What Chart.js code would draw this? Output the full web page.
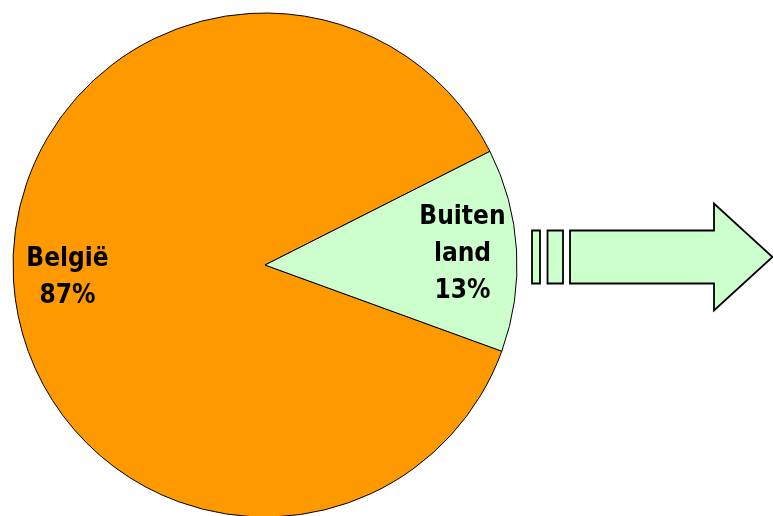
<!DOCTYPE html>
<html>
<head>
<meta charset="utf-8">
<script src="https://cdn.jsdelivr.net/npm/chart.js@4/dist/chart.umd.min.js"></script>
<style>
  html, body { margin: 0; padding: 0; background: #ffffff; }
  #wrap { width: 773px; height: 516px; position: relative; }
</style>
</head>
<body>
<div id="wrap"><canvas id="c"></canvas></div>
<script>
const categories = ['België', 'Buitenland'];
const shares = [87, 13];
const sliceLabels = [['België', '87%'], ['Buiten', 'land', '13%']];
const sliceColors = ['#FF9900', '#CCFFCC'];

const labelPlugin = {
  id: 'sliceLabels',
  afterDatasetsDraw(chart) {
    const ctx = chart.ctx;
    const meta = chart.getDatasetMeta(0);
    ctx.save();
    ctx.font = 'bold 26px "DejaVu Sans Condensed", "DejaVu Sans", sans-serif';
    ctx.fillStyle = '#000000';
    ctx.textAlign = 'center';
    ctx.textBaseline = 'middle';
    meta.data.forEach((arc, i) => {
      const p = arc.getProps(['x', 'y', 'startAngle', 'endAngle', 'outerRadius'], true);
      const mid = (p.startAngle + p.endAngle) / 2;
      const r = p.outerRadius * 0.785;
      const cx = p.x + Math.cos(mid) * r;
      const cy = p.y + Math.sin(mid) * r;
      const lines = sliceLabels[i];
      const lh = 37;
      lines.forEach((t, k) => {
        ctx.fillText(t, cx, cy + (k - (lines.length - 1) / 2) * lh + 1);
      });
    });
    ctx.restore();
  }
};

const arrowPlugin = {
  id: 'blockArrow',
  afterDraw(chart) {
    const ctx = chart.ctx;
    const arc = chart.getDatasetMeta(0).data[0];
    const p = arc.getProps(['x', 'y', 'outerRadius'], true);
    const x0 = p.x + p.outerRadius + 15;
    const cy = p.y - 8;
    const half = 26.5;
    ctx.save();
    ctx.fillStyle = '#CCFFCC';
    ctx.strokeStyle = '#000000';
    ctx.lineWidth = 1.8;
    ctx.lineJoin = 'miter';
    [[x0, 8], [x0 + 15.5, 15.5]].forEach(([sx, w]) => {
      ctx.beginPath();
      ctx.rect(sx, cy - half, w, half * 2);
      ctx.fill();
      ctx.stroke();
    });
    const bx = x0 + 38;
    const hx = bx + 144;
    const tip = 772.5;
    const headHalf = 53.5;
    ctx.beginPath();
    ctx.moveTo(bx, cy - half);
    ctx.lineTo(hx, cy - half);
    ctx.lineTo(hx, cy - headHalf);
    ctx.lineTo(tip, cy);
    ctx.lineTo(hx, cy + headHalf);
    ctx.lineTo(hx, cy + half);
    ctx.lineTo(bx, cy + half);
    ctx.closePath();
    ctx.fill();
    ctx.stroke();
    ctx.restore();
  }
};

new Chart(document.getElementById('c'), {
  type: 'pie',
  data: {
    labels: categories,
    datasets: [{
      data: shares,
      backgroundColor: sliceColors,
      borderColor: '#000000',
      borderWidth: 1,
      radius: 252,
      clip: false
    }]
  },
  options: {
    responsive: true,
    maintainAspectRatio: false,
    animation: false,
    rotation: 110,
    layout: { padding: { top: 14, left: 0, right: 243, bottom: 0 } },
    plugins: {
      legend: { display: false },
      tooltip: { enabled: false }
    }
  },
  plugins: [labelPlugin, arrowPlugin]
});
</script>
</body>
</html>
